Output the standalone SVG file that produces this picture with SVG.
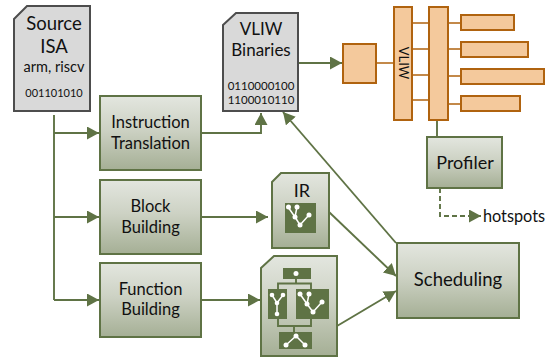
<svg xmlns="http://www.w3.org/2000/svg" width="550" height="360" viewBox="0 0 550 360">
<style>
text{font-family:Lato,"Liberation Sans",sans-serif;fill:#111;text-anchor:middle}
.t{font-size:16.500px}
.g{stroke:#5f7345;stroke-width:2;fill:url(#gr)}
.doc{stroke:#4d4d4d;stroke-width:2;fill:#d9d9d9}
.o{stroke:#b0630f;stroke-width:2;fill:#f4c99c}
.ol{stroke:#b0630f;stroke-width:1.6;fill:none}
.c{stroke:#5f7345;stroke-width:1.9;fill:none}
.d{fill:#5f7345}
.w{fill:#fff;stroke:none}
.wl{stroke:#fff;stroke-width:1.5;fill:none}
</style>
<defs>
<linearGradient id="gr" x1="0" y1="0" x2="0" y2="1"><stop offset="0" stop-color="#e3e6df"/><stop offset="0.45" stop-color="#cdd2c4"/><stop offset="1" stop-color="#a5af95"/></linearGradient>
<marker id="a" markerUnits="userSpaceOnUse" markerWidth="13" markerHeight="14" refX="12" refY="6.5" orient="auto"><path d="M0 0L12 6.5L0 13z" fill="#5f7345"/></marker>
</defs>
<g id="connectors">
<path class="c" d="M54 115V300"/>
<path class="c" d="M54 133H99" marker-end="url(#a)"/>
<path class="c" d="M54 217H99" marker-end="url(#a)"/>
<path class="c" d="M54 300H99" marker-end="url(#a)"/>
<path class="c" d="M202 133H261V113" marker-end="url(#a)"/>
<path class="c" d="M202 217H268" marker-end="url(#a)"/>
<path class="c" d="M202 300H260" marker-end="url(#a)"/>
<path class="c" d="M299 63H342" marker-end="url(#a)"/>
<path class="c" d="M396 243L283 112" marker-end="url(#a)"/>
<path class="c" d="M329 212L396 276" marker-end="url(#a)"/>
<path class="c" d="M337 326L396 291" marker-end="url(#a)"/>
<path class="c" d="M437 120V137"/>
<path class="c" d="M440 188V216H481" stroke-dasharray="5 3" stroke-width="2.200" marker-end="url(#a)"/>
<path class="ol" d="M376 63H394M412 23H429M412 49H429M412 75H429M412 100H429M448 23H460M448 49H460M448 76H460M448 104H460"/>
</g>
<g id="source-isa"><path class="doc" d="M14 19L27 6H90V111H14z"/>
<text x="54" y="30" font-size="18.500">Source</text><text x="54" y="53" font-size="18.500">ISA</text>
<text x="54" y="71.500" font-size="14.500">arm, riscv</text><text x="54" y="97" font-size="11">001101010</text></g>
<g id="vliw-binaries"><path class="doc" d="M223 25L236 13H298V111H223z"/>
<text x="261" y="35" font-size="17">VLIW</text><text x="261" y="56" font-size="17">Binaries</text>
<text x="261" y="90" font-size="11.500">0110000100</text><text x="261" y="104" font-size="11.500">1100010110</text></g>
<g id="instruction-translation"><rect class="g" x="100" y="96" width="101" height="74"/><text class="t" x="150.500" y="128">Instruction</text><text class="t" x="150.500" y="149">Translation</text></g>
<g id="block-building"><rect class="g" x="100" y="180" width="101" height="74"/><text class="t" x="150.500" y="212">Block</text><text class="t" x="150.500" y="233">Building</text></g>
<g id="function-building"><rect class="g" x="100" y="263" width="101" height="74"/><text class="t" x="150.500" y="295">Function</text><text class="t" x="150.500" y="315">Building</text></g>
<g id="ir"><path class="g" d="M272 182L281 173H329V248H272z"/><text x="302" y="197" font-size="18">IR</text>
<rect class="d" x="285" y="203" width="31" height="30"/>
<path class="wl" d="M288 207L295 217L300 225L309 215M297 207L295 217"/>
<circle class="w" cx="288.500" cy="207" r="2.500"/><circle class="w" cx="297" cy="207" r="2.500"/><circle class="w" cx="295" cy="217" r="2.500"/><circle class="w" cx="300" cy="225" r="2.500"/><circle class="w" cx="309" cy="215" r="2.500"/></g>
<g id="function-ir"><path class="g" d="M261 268L274 256H337V356H261z"/>
<path class="c" d="M296 279V283.500M278 289V283.500H311V289M294 326V332M278 319V326H311V319"/>
<rect class="d" x="283" y="268" width="28" height="11"/><circle class="w" cx="296" cy="273.500" r="2.500"/>
<rect class="d" x="268" y="289" width="19" height="30"/>
<path class="wl" d="M272 295L277 303L283 295M277 303V314"/><circle class="w" cx="272" cy="295" r="2.300"/><circle class="w" cx="283" cy="295" r="2.300"/><circle class="w" cx="277" cy="303" r="2.300"/><circle class="w" cx="277" cy="314" r="2.300"/>
<rect class="d" x="296" y="289" width="33" height="30"/>
<path class="wl" d="M300 294L307 304L313 312L322 302M309 294L307 304"/><circle class="w" cx="300" cy="294" r="2.500"/><circle class="w" cx="309" cy="294" r="2.500"/><circle class="w" cx="307" cy="304" r="2.500"/><circle class="w" cx="313" cy="312" r="2.500"/><circle class="w" cx="322" cy="302" r="2.500"/>
<rect class="d" x="279" y="332" width="33" height="17"/>
<path class="wl" d="M286 345L296 336L305 345"/><circle class="w" cx="286" cy="345" r="2.500"/><circle class="w" cx="296" cy="336" r="2.500"/><circle class="w" cx="305" cy="345" r="2.500"/></g>
<g id="scheduling"><rect class="g" x="397" y="243" width="122" height="75"/><text x="458" y="286" font-size="18.500">Scheduling</text></g>
<g id="profiler"><rect class="g" x="427" y="137" width="75" height="51"/><text x="465" y="169" font-size="18">Profiler</text></g>
<text id="hotspots" x="514" y="222" font-size="16.300">hotspots</text>
<g id="decode"><rect class="o" x="343" y="44" width="33" height="39"/></g>
<g id="vliw"><rect class="o" x="394" y="7" width="18" height="113"/><text transform="translate(399 63) rotate(90)" font-size="13">VLIW</text></g>
<g id="bus"><rect class="o" x="429" y="7" width="19" height="113"/></g>
<g id="unit-1"><rect class="o" x="461" y="15" width="53" height="15"/></g>
<g id="unit-2"><rect class="o" x="461" y="42" width="67" height="15"/></g>
<g id="unit-3"><rect class="o" x="461" y="69" width="83" height="15"/></g>
<g id="unit-4"><rect class="o" x="461" y="96" width="59" height="15"/></g>
</svg>
